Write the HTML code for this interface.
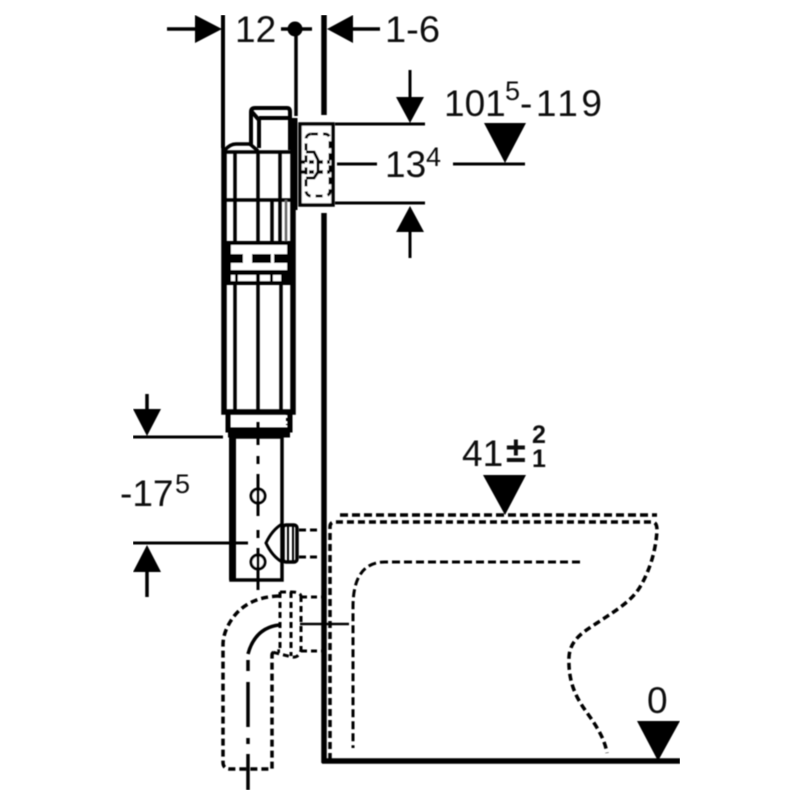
<!DOCTYPE html>
<html><head><meta charset="utf-8"><style>
html,body{margin:0;padding:0;background:#fff}
svg{display:block}
text{font-family:"Liberation Sans",sans-serif;fill:#111}
.t{font-size:37px}.s{font-size:27px}
</style></head><body>
<svg width="800" height="800" viewBox="0 0 800 800" xmlns="http://www.w3.org/2000/svg">
<rect width="800" height="800" fill="#fff"/>
<defs><filter id="b" x="0" y="0" width="100%" height="100%"><feGaussianBlur stdDeviation="0.45"/></filter></defs>
<g filter="url(#b)" fill="none" stroke="#000" stroke-width="3">
<!-- top dims -->
<path d="M167 29H196M281 29H312M353 29H380" stroke-width="3.5"/>
<path d="M195 15L222 29L195 43ZM327 29L353 15V43Z" fill="#000" stroke="none"/>
<path d="M223 15V148" stroke-width="4"/>
<circle cx="295" cy="29" r="7.5" fill="#000" stroke="none"/>
<path d="M296 29V116" stroke-width="3.5"/>
<path d="M324 15V115M324 213V763" stroke-width="5.5"/>
<!-- right dims -->
<path d="M410 70V100M410 232V258M335 124H425M335 203H425M337 164H377M453 164H525" stroke-width="3"/>
<path d="M396 97H424L410 123ZM396 232H424L410 206ZM484 123H526L505 163Z" fill="#000" stroke="none"/>
<!-- wall box -->
<rect x="300" y="124" width="33" height="81" fill="#fff" stroke-width="3.5"/>
<rect x="306" y="134" width="24" height="62" rx="5" stroke-dasharray="7 5" stroke-width="3"/>
<path d="M306 152H314L318 160V172L314 178H306" stroke-width="3"/>
<path d="M300 162H330M300 172H330" stroke-width="3.5" stroke-dasharray="5 4"/>
<!-- top unit -->
<path d="M251 146V112Q251 108 255 108H287Q290 108 290 112V150M252 112L259 120V148M259 118H290" stroke-width="4"/>
<path d="M225 150Q230 144 236 144H250L258 151" stroke-width="3.5"/>
<path d="M224 152H295M224 200H295" stroke-width="3.5"/>
<path d="M295 118V210" stroke-width="5"/>
<!-- body -->
<path d="M224 148V412H293V118" stroke-width="5.5"/>
<path d="M235 152V243M258 152V243M272 200V243M280 152V243M235 284V411M258 284V411M281 284V411" stroke-width="3.5"/>
<path d="M286 200V243" stroke="#666" stroke-width="2.5"/>
<rect x="224" y="241" width="69" height="44" fill="#000" stroke="none"/>
<rect x="231" y="245" width="56" height="9" fill="#fff" stroke="none"/>
<rect x="231" y="263" width="56" height="7" fill="#fff" stroke="none"/>
<rect x="231" y="275" width="4" height="6" fill="#fff" stroke="none"/>
<rect x="238" y="275" width="18" height="6" fill="#fff" stroke="none"/>
<rect x="260" y="275" width="10" height="6" fill="#fff" stroke="none"/>
<rect x="273" y="275" width="8" height="6" fill="#fff" stroke="none"/>
<rect x="243" y="254" width="9" height="9" fill="#fff" stroke="none"/>
<rect x="271" y="254" width="3" height="9" fill="#fff" stroke="none"/>
<!-- collar -->
<path d="M228 411V430H290V411" stroke-width="5"/>
<path d="M228 433H290" stroke-width="9"/>
<path d="M287 412V425" stroke-dasharray="3 3" stroke-width="2"/>
<!-- lower box -->
<path d="M231 437V580H282V437H231" stroke-width="3.5"/>
<path d="M232.5 437V580" stroke-width="7"/>
<path d="M258 422V445M258 456V464M258 474V516M258 530V538M258 548V590" stroke-width="3"/>
<circle cx="258" cy="496" r="7" fill="#fff"/>
<circle cx="258" cy="562" r="7" fill="#fff"/>
<path d="M258 474V516M258 548V590" stroke-width="3"/>
<!-- left dims -->
<path d="M147 394V412M147 570V597" stroke-width="3.5"/>
<path d="M133 437H223M133 543H248" stroke-width="3"/>
<path d="M133 409H161L147 436ZM133 572H161L147 545Z" fill="#000" stroke="none"/>
<!-- valve -->
<path d="M282 524Q272 530 266 543Q272 556 282 562" stroke-width="3"/>
<rect x="283" y="525" width="14" height="37" rx="3" stroke-width="3.5"/>
<path d="M288 525V562M293 525V562" stroke-width="2"/>
<path d="M299 530H321M299 557H321" stroke-dasharray="7 4" stroke-width="3"/>
<!-- toilet -->
<path d="M340 515H657" stroke-dasharray="8 4" stroke-width="3.5"/>
<path d="M330 760V527Q330 522 335 522H652Q657 522 657 530C656 550 650 570 640 587C632 600 620 608 597 623C583 632 570 640 569 657C568 680 575 695 583 707C592 720 604 735 607 753" stroke-dasharray="7 4" stroke-width="3.5"/>
<path d="M580 562H385Q353 562 353 607V748" stroke-dasharray="8 4" stroke-width="3"/>
<path d="M300 624H349" stroke-width="2.5"/>
<path d="M322 761H680" stroke-width="5.5"/>
<path d="M637 721H680L658 761ZM483 475H526L505 515Z" fill="#000" stroke="none"/>
<!-- pipe -->
<path d="M279 596Q250 597 235 615Q223 630 223 645V762Q223 769 230 769H272V655Q272 651 280 651" stroke-dasharray="7 4" stroke-width="3.5"/>
<path d="M279 625Q255 628 248 654" stroke-width="3.5"/>
<path d="M248 660V671M248 682V727M248 738V744M248 754V790" stroke-width="3.5"/>
<path d="M280 592V652M291 592V656M301 596V650Q299 658 292 657L272 652" stroke-dasharray="6 4" stroke-width="3"/>
<path d="M280 592H292Q300 592 301 596M301 597H323M301 651H323" stroke-dasharray="6 4" stroke-width="3"/>
</g>
<g filter="url(#b)">
<text class="t" x="235" y="42">12</text>
<text class="t" x="385" y="42" textLength="55" lengthAdjust="spacingAndGlyphs">1-6</text>
<text class="t" x="444" y="116">101</text>
<text class="s" x="505" y="100">5</text>
<text class="t" x="520" y="116" textLength="82" lengthAdjust="spacing">-119</text>
<text class="t" x="385" y="177">13</text>
<text class="s" x="426" y="166">4</text>
<text class="t" x="120" y="506">-17</text>
<text class="s" x="175" y="493">5</text>
<text class="t" x="462" y="466">41</text>
<text x="506" y="462" style="font-size:36px;font-weight:bold">±</text>
<text x="532" y="443" style="font-size:25px;font-weight:bold">2</text>
<text x="532" y="467" style="font-size:25px;font-weight:bold">1</text>
<text class="t" x="647" y="713">0</text>
</g>
</svg>
</body></html>
